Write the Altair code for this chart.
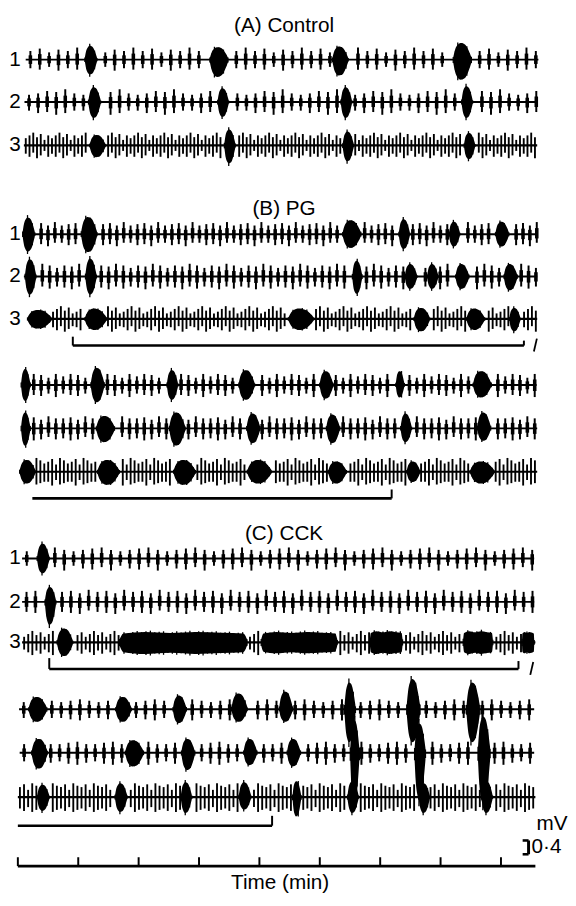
import altair as alt
import pandas as pd

# ---------------- values (time in min, amplitude in mV) ----------------
TRACES = ["A1", "A2", "A3", "B1", "B2", "B3", "B4", "B5", "B6",
          "C1", "C2", "C3", "C4", "C5", "C6"]
TRACE_START = [0.13, 0.11, 0.10, 0.10, 0.10, 0.16, 0.08, 0.08, 0.08,
               0.07, 0.07, 0.07, 0.02, 0.03, 0.00]
TRACE_END = [8.62, 8.59, 8.60, 8.60, 8.60, 8.60, 8.59, 8.60, 8.60,
             8.55, 8.55, 8.57, 8.55, 8.55, 8.57]
# interval between successive slow-wave spikes (min)
SLOW_WAVE_PERIOD = [0.155, 0.15, 0.062, 0.114, 0.122, 0.065, 0.122, 0.122, 0.065,
                    0.155, 0.147, 0.068, 0.155, 0.147, 0.068]
DENSE = ["A3", "B3", "B6", "C3", "C6"]

SPIKE_UP = {
    "A1": [0.25, 0.32, 0.21, 0.29, 0.25, 0.35], "A2": [0.21, 0.25, 0.32, 0.29, 0.37, 0.25],
    "A3": [0.21, 0.29, 0.37, 0.24, 0.33, 0.16, 0.29], "B1": [0.25, 0.29, 0.32, 0.25, 0.35],
    "B2": [0.32, 0.29, 0.37, 0.32, 0.25], "B3": [0.21, 0.29, 0.37, 0.24, 0.33, 0.16],
    "B4": [0.25, 0.32, 0.29, 0.21, 0.32], "B5": [0.29, 0.32, 0.25, 0.35, 0.29],
    "B6": [0.29, 0.37, 0.21, 0.40, 0.33, 0.24], "C1": [0.21, 0.25, 0.29, 0.32, 0.25],
    "C2": [0.29, 0.32, 0.25, 0.35], "C3": [0.16, 0.24, 0.33, 0.21, 0.29],
    "C4": [0.21, 0.25, 0.29, 0.25], "C5": [0.25, 0.29, 0.32, 0.25],
    "C6": [0.29, 0.37, 0.21, 0.40, 0.33],
}
SPIKE_DOWN = {
    "A1": [0.25, 0.29, 0.21, 0.32, 0.25, 0.29], "A2": [0.25, 0.32, 0.29, 0.37, 0.32, 0.25],
    "A3": [0.24, 0.33, 0.21, 0.37, 0.29, 0.16, 0.33], "B1": [0.25, 0.32, 0.29, 0.35, 0.25],
    "B2": [0.32, 0.37, 0.29, 0.35, 0.29], "B3": [0.24, 0.33, 0.21, 0.37, 0.29, 0.21],
    "B4": [0.25, 0.29, 0.32, 0.25, 0.35], "B5": [0.29, 0.35, 0.32, 0.25, 0.32],
    "B6": [0.29, 0.40, 0.24, 0.37, 0.33, 0.29], "C1": [0.21, 0.29, 0.32, 0.25, 0.35],
    "C2": [0.29, 0.32, 0.35, 0.25], "C3": [0.21, 0.29, 0.37, 0.24, 0.33],
    "C4": [0.25, 0.29, 0.32, 0.25], "C5": [0.25, 0.32, 0.35, 0.29],
    "C6": [0.33, 0.40, 0.29, 0.43, 0.37],
}

# spike bursts: centre time, width (min), upward and downward extent (mV)
BURST_T = {
    "A1": [1.21, 3.33, 5.34, 7.36], "A2": [1.27, 3.40, 5.44, 7.44],
    "A3": [1.32, 3.51, 5.47, 7.48],
    "B1": [0.18, 1.18, 5.53, 6.40, 7.23, 8.02],
    "B2": [0.21, 1.21, 5.62, 6.51, 6.87, 7.36, 8.16],
    "B3": [0.36, 1.29, 4.69, 6.69, 7.58, 8.23],
    "B4": [0.13, 1.32, 2.56, 3.79, 5.11, 6.33, 7.69],
    "B5": [0.13, 1.45, 2.64, 3.90, 5.22, 6.43, 7.72],
    "B6": [0.16, 1.50, 2.76, 4.00, 5.29, 6.55, 7.69],
    "C1": [0.42], "C2": [0.54],
    "C3": [0.78, 2.74, 4.66, 6.10, 7.62, 8.45],
    "C4": [0.33, 1.75, 2.68, 3.67, 4.44, 5.50, 6.55, 7.54],
    "C5": [0.36, 1.93, 2.82, 3.85, 4.57, 5.58, 6.66, 7.72],
    "C6": [0.42, 1.71, 2.79, 3.76, 4.62, 5.55, 6.73, 7.77],
}
BURST_W = {
    "A1": [0.20, 0.30, 0.26, 0.30], "A2": [0.20, 0.18, 0.18, 0.18],
    "A3": [0.26, 0.18, 0.18, 0.18],
    "B1": [0.20, 0.26, 0.30, 0.18, 0.18, 0.22],
    "B2": [0.18, 0.18, 0.16, 0.20, 0.18, 0.22, 0.22],
    "B3": [0.40, 0.36, 0.42, 0.26, 0.30, 0.18],
    "B4": [0.15, 0.22, 0.18, 0.26, 0.22, 0.14, 0.30],
    "B5": [0.15, 0.30, 0.26, 0.22, 0.22, 0.18, 0.22],
    "B6": [0.26, 0.36, 0.36, 0.40, 0.30, 0.22, 0.40],
    "C1": [0.20], "C2": [0.18],
    "C3": [0.26, 2.11, 1.26, 0.54, 0.49, 0.20],
    "C4": [0.30, 0.26, 0.22, 0.26, 0.22, 0.18, 0.22, 0.22],
    "C5": [0.26, 0.30, 0.22, 0.22, 0.22, 0.15, 0.18, 0.20],
    "C6": [0.20, 0.20, 0.18, 0.20, 0.14, 0.18, 0.18, 0.18],
}
BURST_UP = {
    "A1": [0.40, 0.36, 0.38, 0.48], "A2": [0.43, 0.40, 0.43, 0.46],
    "A3": [0.30, 0.46, 0.40, 0.36],
    "B1": [0.48, 0.50, 0.40, 0.43, 0.36, 0.36],
    "B2": [0.50, 0.52, 0.46, 0.36, 0.36, 0.36, 0.36],
    "B3": [0.26, 0.30, 0.30, 0.32, 0.30, 0.32],
    "B4": [0.46, 0.50, 0.43, 0.43, 0.40, 0.40, 0.40],
    "B5": [0.46, 0.36, 0.46, 0.43, 0.40, 0.43, 0.46],
    "B6": [0.34, 0.34, 0.34, 0.34, 0.30, 0.30, 0.30],
    "C1": [0.43], "C2": [0.43],
    "C3": [0.40, 0.30, 0.30, 0.32, 0.32, 0.30],
    "C4": [0.36, 0.36, 0.40, 0.46, 0.52, 0.78, 0.88, 0.78],
    "C5": [0.40, 0.36, 0.40, 0.40, 0.40, 0.95, 0.85, 1.05],
    "C6": [0.36, 0.40, 0.43, 0.43, 0.46, 0.46, 0.40, 0.46],
}
BURST_DOWN = {
    "A1": [0.43, 0.50, 0.46, 0.58], "A2": [0.46, 0.43, 0.46, 0.46],
    "A3": [0.34, 0.52, 0.46, 0.40],
    "B1": [0.50, 0.52, 0.40, 0.43, 0.36, 0.36],
    "B2": [0.52, 0.52, 0.50, 0.36, 0.36, 0.36, 0.40],
    "B3": [0.28, 0.32, 0.32, 0.36, 0.32, 0.36],
    "B4": [0.46, 0.50, 0.43, 0.43, 0.40, 0.36, 0.36],
    "B5": [0.50, 0.40, 0.50, 0.43, 0.43, 0.40, 0.36],
    "B6": [0.34, 0.38, 0.38, 0.34, 0.34, 0.30, 0.34],
    "C1": [0.43], "C2": [0.66],
    "C3": [0.40, 0.34, 0.32, 0.34, 0.34, 0.32],
    "C4": [0.36, 0.36, 0.40, 0.36, 0.36, 0.95, 0.95, 0.95],
    "C5": [0.46, 0.40, 0.50, 0.36, 0.40, 1.45, 1.35, 1.45],
    "C6": [0.40, 0.43, 0.46, 0.36, 0.56, 0.46, 0.46, 0.46],
}
BLOCK_BURSTS = {("C3", 1), ("C3", 2), ("C3", 3), ("C3", 4), ("C3", 5)}

# infusion bars (min): start, end
BAR_START = [0.91, 0.24, 0.52, 0.00]
BAR_END = [8.38, 6.19, 8.29, 4.21]
BREAK_MARKS = [8.57, 8.51]          # the "/" after the B and C bars
TIME_TICKS = [0, 1, 2, 3, 4, 5, 6, 7, 8]
TIME_AXIS_END = 8.57
SCALE_MV = 0.4

TITLES = ["(A) Control", "(B) PG", "(C) CCK"]
CHANNEL_LABELS = ["1", "2", "3"]

# ---------------- layout (page pixels) ----------------
W, H, MARGIN = 568, 892, 8
PX_PER_MIN = 61.25
PX_PER_MV = 35.0
T0_PX = 18
BASELINE_PX = {"A1": 54, "A2": 97, "A3": 141, "B1": 231, "B2": 274, "B3": 317,
               "B4": 384, "B5": 428, "B6": 472, "C1": 560, "C2": 604, "C3": 645,
               "C4": 713, "C5": 757, "C6": 802}
TITLE_PX = [20, 206, 535]
BAR_PX = [344, 499, 672, 831]
BAR_TICKS = [(9, 5), (0, 9), (11, 8), (0, 10)]   # end-tick lengths (left, right)
AXIS_PX = 872


def xm(px):
    return (px - T0_PX) / PX_PER_MIN


def ym(py):
    return (MARGIN + H - py) / PX_PER_MV


XDOM = [xm(MARGIN), xm(MARGIN + W)]
YDOM = [0, H / PX_PER_MV]

# ---------------- build tables ----------------
SPINDLE_OFF = [-0.5, -0.4, -0.25, -0.1, 0.05, 0.2, 0.35, 0.5]
SPINDLE_F = [0.15, 0.6, 0.9, 1.0, 0.97, 0.85, 0.55, 0.15]
BLOCK_OFF = [-0.5, -0.47, -0.3, -0.1, 0.1, 0.3, 0.47, 0.5]
BLOCK_F = [0.3, 0.85, 1.0, 0.9, 1.0, 0.92, 0.85, 0.3]
TEXTURE = [1.08, 0.8, 1.15, 0.9, 1.0, 0.75]


def profile(u, offs, fs):
    for a, b, fa, fb in zip(offs[:-1], offs[1:], fs[:-1], fs[1:]):
        if a <= u <= b:
            return fa + (fb - fa) * (u - a) / (b - a)
    return 0.0


base_rows, spike_rows, core_rows, burst_rows, tex_rows = [], [], [], [], []
for i, tr in enumerate(TRACES):
    b = ym(BASELINE_PX[tr])
    t0, t1, per = TRACE_START[i], TRACE_END[i], SLOW_WAVE_PERIOD[i]
    dense = tr in DENSE
    base_rows.append({"x": t0, "x2": t1, "y": b, "y2": b, "sw": 2.2 if dense else 2.0})
    bt, bw = BURST_T[tr], BURST_W[tr]
    k, t = 0, t0 + per * 0.5
    while t <= t1:
        inside = any(abs(t - c) < w / 2 + per * 0.2 for c, w in zip(bt, bw))
        if not inside:
            up = SPIKE_UP[tr][k % len(SPIKE_UP[tr])]
            dn = SPIKE_DOWN[tr][k % len(SPIKE_DOWN[tr])]
            spike_rows.append({"x": t, "y": b + up, "y2": b - dn,
                               "sw": 1.9 if dense else 2.0})
            if not dense:
                core_rows.append({"x": t, "y": b + up * 0.5, "y2": b - dn * 0.5,
                                  "sw": 3.6})
        k += 1
        t = t0 + per * (k + 0.5)
    for j, (c, w) in enumerate(zip(bt, bw)):
        offs, fs = (BLOCK_OFF, BLOCK_F) if (tr, j) in BLOCK_BURSTS else (SPINDLE_OFF, SPINDLE_F)
        for o, f in zip(offs, fs):
            burst_rows.append({"bid": f"{tr}-{j}", "x": c + o * w,
                               "y": b + BURST_UP[tr][j] * f,
                               "y2": b - BURST_DOWN[tr][j] * f})
        n = max(3, int(w * PX_PER_MIN / 2.2))
        for m in range(n + 1):
            u = -0.5 + m / n
            f = profile(u, offs, fs) * TEXTURE[m % len(TEXTURE)]
            tex_rows.append({"x": c + u * w, "y": b + BURST_UP[tr][j] * f,
                             "y2": b - BURST_DOWN[tr][j] * f, "sw": 1.3})

rule_rows = []
for s, e, py, (lt, rt) in zip(BAR_START, BAR_END, BAR_PX, BAR_TICKS):
    y = ym(py)
    rule_rows.append({"x": s, "x2": e, "y": y, "y2": y, "sw": 2.6})
    if lt:
        rule_rows.append({"x": s, "x2": s, "y": y, "y2": y + lt / PX_PER_MV, "sw": 2.0})
    if rt:
        rule_rows.append({"x": e, "x2": e, "y": y, "y2": y + rt / PX_PER_MV, "sw": 2.0})
for bx, py in zip(BREAK_MARKS, [BAR_PX[0], BAR_PX[2]]):
    rule_rows.append({"x": bx - 1.5 / PX_PER_MIN, "x2": bx + 1.5 / PX_PER_MIN,
                      "y": ym(py + 6), "y2": ym(py - 7), "sw": 1.8})
ya = ym(AXIS_PX)
rule_rows.append({"x": TIME_TICKS[0], "x2": TIME_AXIS_END, "y": ya, "y2": ya, "sw": 2.6})
for tk in TIME_TICKS:
    rule_rows.append({"x": tk, "x2": tk, "y": ya, "y2": ya + 9 / PX_PER_MV, "sw": 2.0})
# 0.4 mV calibration bracket
sb_x, sb_y = xm(536), ym(860)
rule_rows.append({"x": sb_x, "x2": sb_x, "y": sb_y, "y2": sb_y + SCALE_MV, "sw": 3.0})
rule_rows.append({"x": sb_x - 6 / PX_PER_MIN, "x2": sb_x, "y": sb_y, "y2": sb_y, "sw": 2.6})
rule_rows.append({"x": sb_x - 6 / PX_PER_MIN, "x2": sb_x, "y": sb_y + SCALE_MV,
                  "y2": sb_y + SCALE_MV, "sw": 2.6})

text_c = []
for ttl, py in zip(TITLES, TITLE_PX):
    text_c.append({"x": xm(288), "y": ym(py), "t": ttl})
for tr in ["A1", "A2", "A3", "B1", "B2", "B3", "C1", "C2", "C3"]:
    text_c.append({"x": xm(15), "y": ym(BASELINE_PX[tr]), "t": CHANNEL_LABELS[int(tr[1]) - 1]})
text_c.append({"x": xm(284), "y": ym(889), "t": "Time (min)"})
text_l = [{"x": xm(544), "y": ym(829), "t": "mV"},
          {"x": xm(539), "y": ym(853), "t": "0·4"}]

XS = alt.Scale(domain=XDOM, nice=False, zero=False)
YS = alt.Scale(domain=YDOM, nice=False, zero=False)


def rules(df):
    return alt.Chart(df).mark_rule(color="black").encode(
        x=alt.X("x:Q", scale=XS, axis=None), x2="x2:Q",
        y=alt.Y("y:Q", scale=YS, axis=None), y2="y2:Q",
        strokeWidth=alt.StrokeWidth("sw:Q", scale=None))


def vrules(df):
    return alt.Chart(df).mark_rule(color="black").encode(
        x=alt.X("x:Q", scale=XS, axis=None),
        y=alt.Y("y:Q", scale=YS, axis=None), y2="y2:Q",
        strokeWidth=alt.StrokeWidth("sw:Q", scale=None))


bursts = alt.Chart(pd.DataFrame(burst_rows)).mark_area(
    color="black", interpolate="monotone").encode(
    x=alt.X("x:Q", scale=XS, axis=None),
    y=alt.Y("y:Q", scale=YS, axis=None), y2="y2:Q",
    detail="bid:N")


def texts(df, align):
    return alt.Chart(pd.DataFrame(df)).mark_text(
        align=align, baseline="middle", font="Liberation Sans", fontSize=21,
        color="black").encode(
        x=alt.X("x:Q", scale=XS, axis=None),
        y=alt.Y("y:Q", scale=YS, axis=None), text="t:N")


chart = alt.layer(
    rules(pd.DataFrame(base_rows)),
    vrules(pd.DataFrame(spike_rows)),
    vrules(pd.DataFrame(core_rows)),
    bursts,
    vrules(pd.DataFrame(tex_rows)),
    rules(pd.DataFrame(rule_rows)),
    texts(text_c, "center"),
    texts(text_l, "left"),
).properties(
    width=W, height=H, padding=0, autosize=alt.AutoSizeParams(type="none"),
    background="white"
).configure_view(stroke=None)

chart.save("out.html", embed_options={"renderer": "svg", "actions": False})
